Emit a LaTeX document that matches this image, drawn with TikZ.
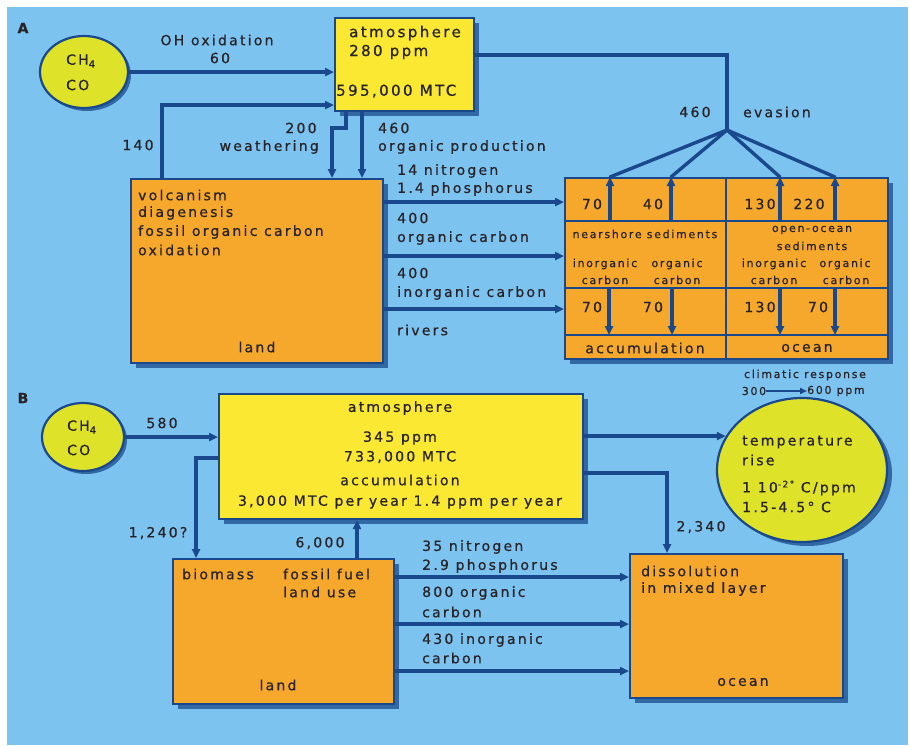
\documentclass[tikz,border=0pt]{standalone}
\usepackage{fontspec}
\setmainfont{DejaVu Sans}[LetterSpace=16,FakeBold=0.7]
\usetikzlibrary{arrows.meta,shapes.geometric,shadows}
\definecolor{bg}{RGB}{125,195,240}
\definecolor{ln}{RGB}{25,72,140}
\definecolor{yel}{RGB}{250,232,50}
\definecolor{org}{RGB}{246,168,45}
\definecolor{ell}{RGB}{222,226,40}
\definecolor{shd}{RGB}{50,105,165}
\definecolor{txt}{RGB}{40,35,40}
\tikzset{
 flow/.style={line width=3.4pt, draw=ln, -{Triangle[length=9pt,width=8pt]}},
 plain/.style={line width=3.4pt, draw=ln},
 thin/.style={line width=2.2pt, draw=ln},
 shd/.style={drop shadow={shadow xshift=5pt,shadow yshift=-5pt,fill=shd,opacity=1}},
 box/.style={draw=ln, line width=2.2pt, inner sep=0pt, anchor=north west, shd},
 oval/.style={ellipse, draw=ln, line width=2.2pt, fill=ell, inner sep=0pt,
   drop shadow={shadow xshift=3pt,shadow yshift=-3pt,fill=shd,opacity=1}},
 lbl/.style={text=txt, inner sep=0pt, font=\fontsize{14}{16}\selectfont},
 big/.style={text=txt, inner sep=0pt, font=\fontsize{15}{17}\selectfont},
 small/.style={text=txt, inner sep=0pt, font=\fontsize{10.9}{12}\selectfont},
 tag/.style={text=txt, inner sep=0pt, font=\fontsize{14}{16}\selectfont\bfseries},
}
\newcommand{\subf}{\raisebox{-3pt}{\fontsize{10}{10}\selectfont 4}}
\begin{document}
\begin{tikzpicture}[x=1pt,y=-1pt]
\useasboundingbox (0,0) rectangle (910,745);
\fill[white] (0,0) rectangle (910,745);
\fill[bg] (7,7) rectangle (908,745);

%================ Panel A ================
\node[tag] (tagA) at (23,28) {A};
\node[oval, minimum width=88pt, minimum height=72pt] (ellA) at (84,72) {};
\node[lbl, anchor=west] (ch4a) at (66,61) {CH\subf};
\node[lbl, anchor=west] (coa) at (66,85) {CO};

\node[box, fill=yel, minimum width=139pt, minimum height=93pt] (atmA) at (334,17) {};
\node[big, anchor=west] (atA1) at (349,33) {atmosphere};
\node[big, anchor=west] (atA2) at (349,52) {280 ppm};
\node[big, anchor=west] (atA3) at (336,91) {595,000 MTC};

\node[box, fill=org, minimum width=252pt, minimum height=184pt] (landA) at (130,178) {};
\node[lbl, anchor=west] (lA1) at (138,195) {volcanism};
\node[lbl, anchor=west] (lA2) at (138,213) {diagenesis};
\node[lbl, anchor=west] (lA3) at (138,232) {fossil organic carbon};
\node[lbl, anchor=west] (lA4) at (138,250) {oxidation};
\node[lbl] (lA5) at (257,347) {land};

\node[box, fill=org, minimum width=323pt, minimum height=181pt] (grid) at (564,177) {};
\coordinate (r1) at (564,221);
\coordinate (r2) at (564,288);
\coordinate (r3) at (564,335);
\coordinate (dv) at (726,300);
\draw[thin] (r1) -- (grid.east |- r1);
\draw[thin] (r2) -- (grid.east |- r2);
\draw[thin] (r3) -- (grid.east |- r3);
\draw[thin] (grid.north -| dv) -- (grid.south -| dv);

% grid texts
\node[lbl] (g1) at (592,204) {70};
\node[lbl] (g2) at (653,204) {40};
\node[lbl] (g3) at (760,204) {130};
\node[lbl] (g4) at (809,204) {220};
\node[small] (g5) at (645,234) {nearshore sediments};
\node[small] (g6) at (812,230) {open-ocean};
\node[small] (g7) at (812,246) {sediments};
\node[small] (g8) at (605,264) {inorganic};
\node[small] (g9) at (677,264) {organic};
\node[small] (g10) at (605,280) {carbon};
\node[small] (g11) at (677,280) {carbon};
\node[small] (g12) at (774,264) {inorganic};
\node[small] (g13) at (845,264) {organic};
\node[small] (g14) at (774,280) {carbon};
\node[small] (g15) at (846,280) {carbon};
\node[lbl] (g16) at (592,307) {70};
\node[lbl] (g17) at (653,307) {70};
\node[lbl] (g18) at (760,307) {130};
\node[lbl] (g19) at (818,307) {70};
\node[lbl] (g20) at (645,348) {accumulation};
\node[lbl] (g21) at (807,348) {ocean};

% CH4 -> atmosphere
\draw[flow] (ellA.east) -- (ellA.east -| atmA.west);
\node[lbl] (oh1) at (217,40) {OH oxidation};
\node[lbl] (oh2) at (220,58) {60};

% 140
\coordinate (c140) at (162,105);
\draw[flow] (landA.north -| c140) |- (atmA.west |- c140);
\node[lbl] (n140) at (138,145) {140};

% weathering
\coordinate (cw1) at (346,128);
\coordinate (cw2) at (332,128);
\draw[flow] (atmA.south -| cw1) -- (cw1) -- (cw2) -- (landA.north -| cw2);
\node[lbl] (n200) at (301,128) {200};
\node[lbl, anchor=east] (nwe) at (319,147) {weathering};

% organic production
\coordinate (cop) at (362,140);
\draw[flow] (atmA.south -| cop) -- (landA.north -| cop);
\node[lbl, anchor=west] (n460) at (378,128) {460};
\node[lbl, anchor=west] (nop) at (378,147) {organic production};

% evasion
\coordinate (cev) at (727,55);
\coordinate (fan) at (727,130);
\draw[plain] (atmA.east |- cev) -- (cev) -- (fan);
\coordinate (k1) at (610,221);
\coordinate (k2) at (671,221);
\coordinate (k3) at (780,221);
\coordinate (k4) at (835,221);
\foreach \k in {k1,k2,k3,k4}{
  \draw[plain, line cap=round] (fan) -- (grid.north -| \k);
  \draw[flow] (\k) -- (grid.north -| \k);
}
\node[lbl] (ev1) at (695,112) {460};
\node[lbl, anchor=west] (ev2) at (743,112) {evasion};

% accumulation arrows
\coordinate (m1) at (609,288);
\coordinate (m2) at (672,288);
\coordinate (m3) at (780,288);
\coordinate (m4) at (835,288);
\foreach \m in {m1,m2,m3,m4}{
  \draw[flow] (\m) -- (\m |- r3);
}

% rivers
\coordinate (cr1) at (400,202);
\coordinate (cr2) at (400,256);
\coordinate (cr3) at (400,309);
\draw[flow] (landA.east |- cr1) -- (grid.west |- cr1);
\draw[flow] (landA.east |- cr2) -- (grid.west |- cr2);
\draw[flow] (landA.east |- cr3) -- (grid.west |- cr3);
\node[lbl, anchor=west] (rv1) at (397,171) {14 nitrogen};
\node[lbl, anchor=west] (rv2) at (397,189) {1.4 phosphorus};
\node[lbl, anchor=west] (rv3) at (397,218) {400};
\node[lbl, anchor=west] (rv4) at (397,238) {organic carbon};
\node[lbl, anchor=west] (rv5) at (397,273) {400};
\node[lbl, anchor=west] (rv6) at (397,293) {inorganic carbon};
\node[lbl, anchor=west] (rv7) at (397,330) {rivers};

%================ Panel B ================
\node[tag] (tagB) at (23,398) {B};
\node[oval, minimum width=82pt, minimum height=68pt] (ellB) at (83,437) {};
\node[lbl, anchor=west] (ch4b) at (67,427) {CH\subf};
\node[lbl, anchor=west] (cob) at (67,450) {CO};

\node[box, fill=yel, minimum width=364pt, minimum height=125pt] (atmB) at (218,393) {};
\node[lbl] (atB1) at (400,408) {atmosphere};
\node[lbl] (atB2) at (400,438) {345 ppm};
\node[lbl] (atB3) at (400,457) {733,000 MTC};
\node[lbl] (atB4) at (400,480) {accumulation};
\node[lbl] (atB5) at (400,502) {3,000 MTC per year 1.4 ppm per year};

\node[box, fill=org, minimum width=221pt, minimum height=145pt] (landB) at (172,558) {};
\node[lbl, anchor=west] (lB1) at (182,574) {biomass};
\node[lbl, anchor=west] (lB2) at (283,574) {fossil fuel};
\node[lbl, anchor=west] (lB3) at (283,592) {land use};
\node[lbl] (lB4) at (278,685) {land};

\node[box, fill=org, minimum width=213pt, minimum height=144pt] (oceB) at (629,553) {};
\node[lbl, anchor=west] (oB1) at (641,571) {dissolution};
\node[lbl, anchor=west] (oB2) at (641,589) {in mixed layer};
\node[lbl] (oB3) at (743,682) {ocean};

\node[ellipse, draw=ln, line width=2.2pt, fill=ell, inner sep=0pt,
  minimum width=170pt, minimum height=144pt,
  drop shadow={shadow xshift=5pt,shadow yshift=-4pt,fill=shd,opacity=1}] (temp) at (802,470) {};
\node[lbl, anchor=west] (tp1) at (742,442) {temperature};
\node[lbl, anchor=west] (tp2) at (742,460) {rise};
\node[lbl, anchor=west] (tp3) at (742,488) {1 10\raisebox{5pt}{\fontsize{9}{9}\selectfont -2°} C/ppm};
\node[lbl, anchor=west] (tp4) at (742,507) {1.5-4.5° C};

\node[small] (cl1) at (805,375) {climatic response};
\node[small] (cl2) at (754,391) {300};
\node[small, anchor=west] (cl3) at (807,391) {600 ppm};
\draw[line width=2.6pt, draw=ln, -{Triangle[length=7pt,width=6pt]}] (cl2.east) -- (cl3.west);

% CH4 -> atm
\draw[flow] (ellB.east) -- (ellB.east -| atmB.west);
\node[lbl] (n580) at (162,423) {580};

% 1,240?
\coordinate (c1240) at (196,458);
\draw[flow] (atmB.west |- c1240) -| (landB.north -| c1240);
\node[lbl] (n1240) at (158,533) {1,240?};

% 6,000
\coordinate (c6000) at (357,540);
\draw[flow] (landB.north -| c6000) -- (atmB.south -| c6000);
\node[lbl] (n6000) at (320,543) {6,000};

% temperature
\draw[flow] (atmB.east |- temp.156) -- (temp.156);

% 2,340
\coordinate (c2340) at (667,473);
\draw[flow] (atmB.east |- c2340) -| (oceB.north -| c2340);
\node[lbl] (n2340) at (701,527) {2,340};

% land -> ocean
\coordinate (cs1) at (400,577);
\coordinate (cs2) at (400,624);
\coordinate (cs3) at (400,671);
\draw[flow] (landB.east |- cs1) -- (oceB.west |- cs1);
\draw[flow] (landB.east |- cs2) -- (oceB.west |- cs2);
\draw[flow] (landB.east |- cs3) -- (oceB.west |- cs3);
\node[lbl, anchor=west] (sv1) at (422,547) {35 nitrogen};
\node[lbl, anchor=west] (sv2) at (422,566) {2.9 phosphorus};
\node[lbl, anchor=west] (sv3) at (422,593) {800 organic};
\node[lbl, anchor=west] (sv4) at (422,612) {carbon};
\node[lbl, anchor=west] (sv5) at (422,640) {430 inorganic};
\node[lbl, anchor=west] (sv6) at (422,658) {carbon};
\end{tikzpicture}
\end{document}
